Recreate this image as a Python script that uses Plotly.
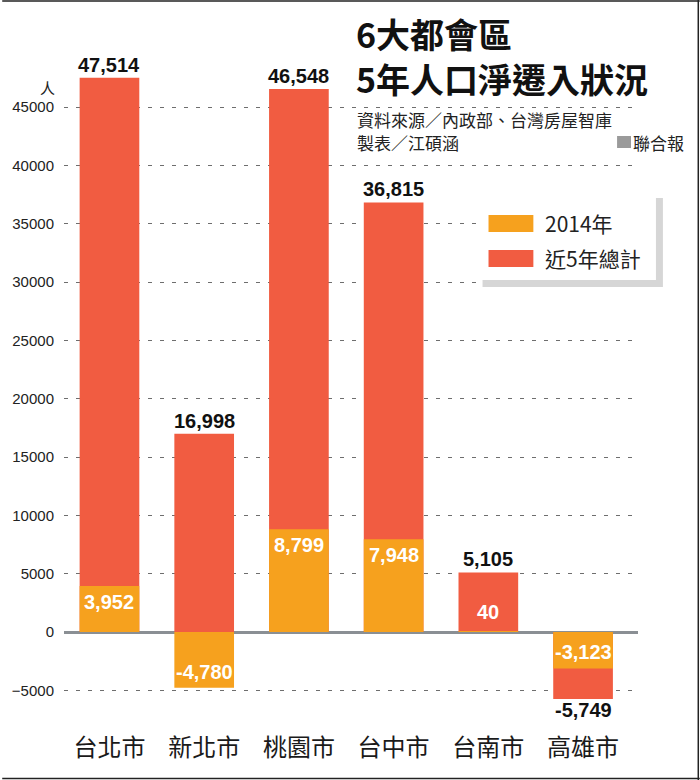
import plotly.graph_objects as go

cities = ["台北市", "新北市", "桃園市", "台中市", "台南市", "高雄市"]
total_5yr = [47514, 16998, 46548, 36815, 5105, -5749]
y2014 = [3952, -4780, 8799, 7948, 40, -3123]
ytick_vals = [-5000, 0, 5000, 10000, 15000, 20000, 25000, 30000, 35000, 40000, 45000]

RED = "#F15C41"
ORANGE = "#F6A11E"
NUM_FONT = "Liberation Sans, Arial, sans-serif"
CJK_FONT = "Noto Sans CJK TC, Noto Sans CJK SC, sans-serif"

# plot-area pixel geometry
L, R, T, B = 62, 638, 20, 725
W, H = R - L, B - T


def px(x):
    return (x - L) / W


def py(y):
    return (B - y) / H


fig = go.Figure()
fig.add_trace(go.Bar(x=cities, y=total_5yr, name="近5年總計", marker_color=RED,
                     marker_line_width=0, width=0.63, opacity=1))
fig.add_trace(go.Bar(x=cities, y=y2014, name="2014年", marker_color=ORANGE,
                     marker_line_width=0, width=0.63, opacity=1))

annotations = []
# total labels (outside bar end)
for c, v in zip(cities, total_5yr):
    annotations.append(dict(x=c, y=v, xref="x", yref="y", text=f"{v:,}", showarrow=False,
                            yanchor="middle", yshift=13 if v >= 0 else -11,
                            font=dict(family=NUM_FONT, size=20, color="#111111", weight="bold")))
# 2014 labels (inside bar end; tiny values sit just above the axis)
for c, v in zip(cities, y2014):
    if v > 1000:
        shift = -16
    elif v >= 0:
        shift = 20
    else:
        shift = 16
    annotations.append(dict(x=c, y=v, xref="x", yref="y", text=f"{v:,}", showarrow=False,
                            yanchor="middle", yshift=shift,
                            font=dict(family=NUM_FONT, size=20, color="white", weight="bold")))

# title
annotations.append(dict(x=px(353), y=py(33), xref="paper", yref="paper", text="6大都會區",
                        showarrow=False, xanchor="left", yanchor="middle",
                        font=dict(family=CJK_FONT, size=34, color="#111111", weight="bold")))
annotations.append(dict(x=px(353), y=py(78), xref="paper", yref="paper", text="5年人口淨遷入狀況",
                        showarrow=False, xanchor="left", yanchor="middle",
                        font=dict(family=CJK_FONT, size=34, color="#111111", weight="bold")))
annotations.append(dict(x=px(354), y=py(120), xref="paper", yref="paper",
                        text="資料來源／內政部、台灣房屋智庫", showarrow=False,
                        xanchor="left", yanchor="middle",
                        font=dict(family=CJK_FONT, size=17, color="#222222")))
annotations.append(dict(x=px(354), y=py(142), xref="paper", yref="paper",
                        text="製表／江碩涵", showarrow=False, xanchor="left", yanchor="middle",
                        font=dict(family=CJK_FONT, size=17, color="#222222")))
annotations.append(dict(x=px(686), y=py(142), xref="paper", yref="paper",
                        text="聯合報", showarrow=False, xanchor="right", yanchor="middle",
                        font=dict(family=CJK_FONT, size=17, color="#222222")))
# unit
annotations.append(dict(x=px(45), y=py(87), xref="paper", yref="paper", text="人",
                        showarrow=False, xanchor="center", yanchor="middle",
                        font=dict(family=CJK_FONT, size=15, color="#222222")))
# legend labels
annotations.append(dict(x=px(543), y=py(223), xref="paper", yref="paper", text="2014年",
                        showarrow=False, xanchor="left", yanchor="middle",
                        font=dict(family=CJK_FONT, size=21, color="#222222")))
annotations.append(dict(x=px(543), y=py(258), xref="paper", yref="paper", text="近5年總計",
                        showarrow=False, xanchor="left", yanchor="middle",
                        font=dict(family=CJK_FONT, size=21, color="#222222")))

shapes = [
    # legend shadow and box
    dict(type="rect", xref="paper", yref="paper", x0=px(482), x1=px(663), y0=py(287), y1=py(198),
         fillcolor="#d6d6d6", line_width=0, layer="above"),
    dict(type="rect", xref="paper", yref="paper", x0=px(476), x1=px(656), y0=py(280), y1=py(192),
         fillcolor="white", line_width=0, layer="above"),
    dict(type="rect", xref="paper", yref="paper", x0=px(488), x1=px(533), y0=py(232), y1=py(215),
         fillcolor=ORANGE, line_width=0, layer="above"),
    dict(type="rect", xref="paper", yref="paper", x0=px(488), x1=px(533), y0=py(267), y1=py(250),
         fillcolor=RED, line_width=0, layer="above"),
    # 聯合報 square
    dict(type="rect", xref="paper", yref="paper", x0=px(617), x1=px(631), y0=py(148), y1=py(136),
         fillcolor="#9a9a9a", line_width=0, layer="above"),
    # frame
    dict(type="line", xref="paper", yref="paper", x0=px(0), x1=px(700), y0=py(1), y1=py(1),
         line=dict(color="#222222", width=1.5)),
    dict(type="line", xref="paper", yref="paper", x0=px(698.5), x1=px(698.5), y0=py(0), y1=py(780),
         line=dict(color="#222222", width=1.5)),
    dict(type="line", xref="paper", yref="paper", x0=px(0), x1=px(700), y0=py(778.5), y1=py(778.5),
         line=dict(color="#222222", width=1.5)),
]

px_per_unit = (632 - 107) / 45000
y_top = (632 - T) / px_per_unit
y_bot = -(B - 632) / px_per_unit

fig.update_layout(
    width=700, height=780,
    margin=dict(l=L, r=700 - R, t=T, b=780 - B, pad=0),
    paper_bgcolor="white", plot_bgcolor="white",
    barmode="overlay", showlegend=False,
    annotations=annotations, shapes=shapes,
    xaxis=dict(range=[-0.48, 5.58], showgrid=False, showline=False, ticks="",
               tickfont=dict(family=CJK_FONT, size=24, color="#1a1a1a"),
               ticklabelstandoff=6, zeroline=False, fixedrange=True),
    yaxis=dict(range=[y_bot, y_top], tickvals=ytick_vals, tickformat="d",
               showgrid=True, gridcolor="#6e6e6e", gridwidth=1, griddash="4px,8px",
               zeroline=True, zerolinecolor="#8a8f94", zerolinewidth=2.5,
               showline=False, ticks="", ticklabelstandoff=9,
               tickfont=dict(family=NUM_FONT, size=15, color="#222222"), fixedrange=True),
)

fig.write_html("out.html", config={"displayModeBar": False},
               post_script="document.body.style.margin='0';document.body.style.overflow='hidden';")
